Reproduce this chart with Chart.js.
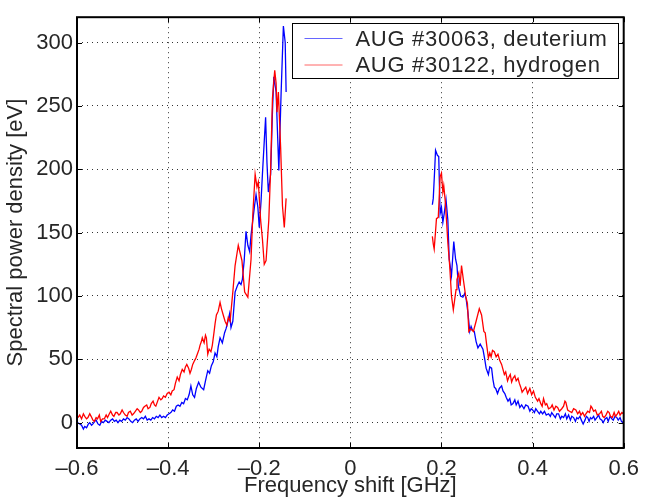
<!DOCTYPE html>
<html>
<head>
<meta charset="utf-8">
<script src="https://cdn.jsdelivr.net/npm/chart.js@4.4.1/dist/chart.umd.min.js"></script>
<style>
  html, body { margin: 0; background: #fff; }
</style>
</head>
<body>
<canvas id="spectrum" width="647" height="499"></canvas>
<script>
// axis ticks
var freqTicks = [-0.6, -0.4, -0.2, 0, 0.2, 0.4, 0.6];
var powerTicks = [0, 50, 100, 150, 200, 250, 300];

// AUG #30063, deuterium
var deutLeftF = [-0.598, -0.594, -0.590, -0.586, -0.583, -0.579, -0.575, -0.572, -0.568, -0.565,
  -0.561, -0.558, -0.554, -0.550, -0.546, -0.542, -0.538, -0.534, -0.530, -0.526,
  -0.522, -0.518, -0.514, -0.510, -0.506, -0.502, -0.498, -0.494, -0.490, -0.486,
  -0.482, -0.478, -0.474, -0.470, -0.466, -0.462, -0.458, -0.454, -0.450, -0.446,
  -0.442, -0.438, -0.434, -0.430, -0.426, -0.422, -0.418, -0.414, -0.410, -0.406,
  -0.402, -0.398, -0.394, -0.390, -0.386, -0.382, -0.378, -0.374, -0.370, -0.366,
  -0.362, -0.358, -0.354, -0.350, -0.346, -0.342, -0.338, -0.333, -0.328, -0.322,
  -0.318, -0.313, -0.309, -0.305, -0.301, -0.297, -0.293, -0.290, -0.286, -0.281,
  -0.276, -0.273, -0.270, -0.265, -0.262, -0.258, -0.253, -0.248, -0.244, -0.240,
  -0.237, -0.233, -0.229, -0.225, -0.221, -0.218, -0.214, -0.210, -0.207, -0.203,
  -0.200, -0.196, -0.193, -0.189, -0.186, -0.183, -0.180, -0.175, -0.171, -0.168,
  -0.163, -0.160, -0.157, -0.152, -0.147, -0.143, -0.141];
var deutLeftP = [0, -1, -2, -5, -3, -4, -1, 0, -2, -1,
  1, 2, -1, -2, 1, 0, 2, 1, 0, 2,
  3, 1, 2, 0, 2, 1, 3, 2, 4, 3,
  1, 0, 2, 3, 1, 3, 4, 3, 5, 2,
  3, 2, 4, 3, 5, 4, 6, 4, 5, 4,
  6, 7, 8, 10, 9, 13, 14, 13, 16, 15,
  19, 18, 22, 29, 22, 20, 27, 32, 28, 26,
  33, 41, 39, 45, 48, 55, 52, 60, 67, 63,
  71, 74, 78, 86, 75, 80, 103, 108, 111, 109,
  113, 128, 151, 140, 135, 148, 160, 172, 180, 170,
  154, 175, 196, 222, 241, 205, 182, 196, 245, 273,
  261, 230, 199, 260, 313, 300, 261];
var deutRightF = [0.180, 0.182, 0.185, 0.187, 0.191, 0.194, 0.197, 0.200, 0.203, 0.206,
  0.210, 0.214, 0.217, 0.222, 0.227, 0.231, 0.234, 0.237, 0.242, 0.247,
  0.251, 0.254, 0.258, 0.262, 0.265, 0.268, 0.272, 0.276, 0.280, 0.285,
  0.291, 0.295, 0.298, 0.301, 0.303, 0.306, 0.310, 0.313, 0.316, 0.319,
  0.323, 0.327, 0.332, 0.335, 0.339, 0.342, 0.346, 0.350, 0.353, 0.357,
  0.361, 0.364, 0.368, 0.372, 0.376, 0.381, 0.385, 0.390, 0.394, 0.397,
  0.400, 0.404, 0.407, 0.411, 0.415, 0.418, 0.422, 0.426, 0.430, 0.435,
  0.439, 0.442, 0.446, 0.450, 0.453, 0.457, 0.461, 0.464, 0.468, 0.472,
  0.475, 0.479, 0.483, 0.486, 0.490, 0.494, 0.497, 0.500, 0.504, 0.507,
  0.511, 0.515, 0.518, 0.521, 0.524, 0.527, 0.530, 0.534, 0.537, 0.541,
  0.545, 0.548, 0.552, 0.555, 0.559, 0.563, 0.566, 0.570, 0.574, 0.577,
  0.581, 0.585, 0.588, 0.592, 0.595, 0.598, 0.600];
var deutRightP = [172, 177, 199, 215, 211, 210, 165, 170, 158, 165,
  176, 160, 129, 116, 143, 129, 124, 108, 100, 99,
  102, 98, 87, 72, 76, 73, 72, 64, 59, 62,
  58, 50, 43, 40, 38, 44, 43, 34, 28, 27,
  23, 27, 29, 25, 23, 20, 17, 19, 14, 15,
  18, 14, 17, 12, 14, 11, 14, 13, 9, 11,
  10, 8, 11, 9, 7, 9, 7, 9, 6, 7,
  5, 8, 6, 4, 7, 7, 3, 5, 4, 7,
  3, 6, 2, 5, 4, 1, 4, 3, 5, 2,
  -1, 2, 5, 4, 1, 4, 3, 5, 2, 4,
  6, 3, 2, 0, 3, 4, 1, 5, 3, 2,
  5, 4, 2, 4, 1, 0, 2];

// AUG #30122, hydrogen
var hydLeftF = [-0.598, -0.594, -0.590, -0.586, -0.583, -0.579, -0.576, -0.572, -0.569, -0.565,
  -0.562, -0.558, -0.555, -0.551, -0.548, -0.544, -0.540, -0.536, -0.533, -0.529,
  -0.526, -0.522, -0.519, -0.515, -0.512, -0.508, -0.505, -0.501, -0.498, -0.494,
  -0.490, -0.487, -0.483, -0.479, -0.476, -0.472, -0.468, -0.465, -0.461, -0.458,
  -0.454, -0.451, -0.447, -0.444, -0.440, -0.437, -0.433, -0.430, -0.427, -0.423,
  -0.420, -0.416, -0.413, -0.410, -0.406, -0.402, -0.398, -0.394, -0.391, -0.387,
  -0.384, -0.380, -0.376, -0.373, -0.369, -0.365, -0.362, -0.359, -0.355, -0.352,
  -0.349, -0.346, -0.342, -0.339, -0.335, -0.332, -0.330, -0.327, -0.325, -0.321,
  -0.318, -0.316, -0.313, -0.310, -0.306, -0.303, -0.299, -0.297, -0.294, -0.290,
  -0.286, -0.283, -0.279, -0.275, -0.271, -0.268, -0.264, -0.258, -0.253, -0.246,
  -0.238, -0.232, -0.225, -0.218, -0.214, -0.209, -0.205, -0.202, -0.197, -0.193,
  -0.189, -0.185, -0.179, -0.175, -0.171, -0.166, -0.163, -0.161, -0.158, -0.153,
  -0.149, -0.145, -0.141];
var hydLeftP = [4, 6, 3, 7, 5, 3, 4, 7, 5, 2,
  1, 4, 3, 6, 1, 3, 3, 6, 4, 7,
  9, 6, 5, 8, 8, 6, 7, 10, 8, 6,
  5, 8, 9, 6, 7, 9, 11, 10, 8, 9,
  12, 13, 14, 11, 12, 15, 17, 14, 13, 17,
  20, 18, 19, 21, 20, 23, 24, 22, 25, 26,
  31, 36, 33, 38, 42, 40, 44, 46, 43, 39,
  42, 46, 49, 51, 55, 58, 61, 64, 67, 63,
  69, 67, 54, 58, 56, 61, 72, 78, 85, 88,
  95, 90, 85, 80, 77, 83, 80, 103, 124, 140,
  128, 103, 99, 129, 165, 196, 186, 190, 160, 145,
  125, 128, 160, 200, 256, 278, 268, 245, 261, 217,
  171, 154, 177];
var hydRightF = [0.180, 0.182, 0.184, 0.187, 0.189, 0.193, 0.197, 0.200, 0.203, 0.205,
  0.208, 0.211, 0.214, 0.218, 0.222, 0.226, 0.229, 0.232, 0.234, 0.238,
  0.241, 0.244, 0.248, 0.253, 0.257, 0.260, 0.264, 0.270, 0.276, 0.283,
  0.288, 0.293, 0.296, 0.299, 0.303, 0.306, 0.309, 0.312, 0.316, 0.320,
  0.324, 0.328, 0.332, 0.335, 0.338, 0.341, 0.345, 0.348, 0.351, 0.354,
  0.357, 0.361, 0.364, 0.368, 0.371, 0.374, 0.377, 0.381, 0.385, 0.389,
  0.394, 0.398, 0.402, 0.406, 0.411, 0.414, 0.418, 0.421, 0.424, 0.428,
  0.431, 0.435, 0.440, 0.443, 0.447, 0.451, 0.455, 0.459, 0.464, 0.468,
  0.471, 0.473, 0.477, 0.481, 0.486, 0.490, 0.495, 0.499, 0.503, 0.506,
  0.510, 0.514, 0.517, 0.521, 0.525, 0.528, 0.530, 0.534, 0.538, 0.542,
  0.547, 0.551, 0.554, 0.557, 0.561, 0.565, 0.568, 0.571, 0.575, 0.579,
  0.582, 0.586, 0.589, 0.592, 0.596, 0.599];
var hydRightP = [147, 141, 137, 151, 161, 162, 194, 197, 182, 187,
  176, 160, 142, 124, 100, 89, 97, 105, 113, 118,
  108, 124, 113, 100, 94, 72, 74, 72, 80, 90,
  85, 72, 71, 62, 51, 55, 52, 57, 56, 52,
  54, 49, 46, 42, 38, 40, 33, 36, 38, 32,
  35, 37, 33, 35, 31, 28, 24, 26, 28, 23,
  27, 22, 25, 20, 17, 19, 15, 13, 19, 14,
  15, 11, 12, 14, 10, 13, 12, 9, 11, 13,
  17, 16, 10, 9, 8, 11, 10, 7, 9, 6,
  8, 5, 7, 9, 8, 13, 12, 9, 10, 6,
  7, 9, 5, 4, 6, 9, 8, 5, 4, 8,
  5, 7, 9, 6, 8, 7];

function branches(fl, pl, fr, pr) {
  var out = [];
  for (var i = 0; i < fl.length; i++) out.push({ x: fl[i], y: pl[i] });
  out.push({ x: 0.02, y: null });   // gap around zero shift
  for (var j = 0; j < fr.length; j++) out.push({ x: fr[j], y: pr[j] });
  return out;
}

var FONT = "'Liberation Sans', Arial, Helvetica, sans-serif";
var TEXT = '#262626';

function tickText(v) {
  if (Math.abs(v) < 1e-9) return '0';
  return v < 0 ? '\u2013' + Math.abs(v) : String(v);
}

// box, inward tick marks and the legend, MATLAB style
var framePlugin = {
  id: 'frame',
  afterDraw: function (chart) {
    var ctx = chart.ctx, a = chart.chartArea;
    var xs = chart.scales.x, ys = chart.scales.y;
    ctx.save();
    ctx.strokeStyle = '#000';
    ctx.lineWidth = 1;
    ctx.beginPath();
    freqTicks.forEach(function (v) {
      var px = Math.round(xs.getPixelForValue(v)) + 0.5;
      ctx.moveTo(px, a.bottom); ctx.lineTo(px, a.bottom - 5);
      ctx.moveTo(px, a.top); ctx.lineTo(px, a.top + 5);
    });
    powerTicks.forEach(function (v) {
      var py = Math.round(ys.getPixelForValue(v)) + 0.5;
      ctx.moveTo(a.left, py); ctx.lineTo(a.left + 5, py);
      ctx.moveTo(a.right, py); ctx.lineTo(a.right - 5, py);
    });
    ctx.stroke();
    ctx.lineWidth = 2;
    ctx.strokeRect(a.left, a.top, a.right - a.left, a.bottom - a.top);

    // legend
    var sets = [chart.data.datasets[1], chart.data.datasets[0]];
    ctx.letterSpacing = '0.7px';
    ctx.font = '22px ' + FONT;
    var tw = 0;
    sets.forEach(function (d) { tw = Math.max(tw, ctx.measureText(d.label).width); });
    var bw = Math.round(12 + 38 + 13 + tw + 11), bh = 55;
    var bx = Math.round(a.right - 6 - bw) + 0.5, by = Math.round(a.top + 6) + 0.5;
    ctx.fillStyle = '#fff';
    ctx.fillRect(bx, by, bw, bh);
    ctx.lineWidth = 1;
    ctx.strokeStyle = '#000';
    ctx.strokeRect(bx, by, bw, bh);
    ctx.textBaseline = 'middle';
    ctx.textAlign = 'left';
    sets.forEach(function (d, i) {
      var cy = by + 15 + i * 26.5;
      ctx.strokeStyle = d.borderColor;
      ctx.globalAlpha = 0.6;
      ctx.beginPath();
      ctx.moveTo(bx + 12, cy); ctx.lineTo(bx + 50, cy);
      ctx.stroke();
      ctx.globalAlpha = 1;
      ctx.fillStyle = TEXT;
      ctx.fillText(d.label, bx + 63, cy + 1);
    });
    ctx.restore();
  }
};

var ctx = document.getElementById('spectrum').getContext('2d');
var spectrumChart = new Chart(ctx, {
  type: 'line',
  data: {
    datasets: [{
      label: 'AUG #30122, hydrogen',
      data: branches(hydLeftF, hydLeftP, hydRightF, hydRightP),
      borderColor: '#ff0000',
      borderWidth: 1.3,
      pointRadius: 0,
      tension: 0,
      spanGaps: false
    }, {
      label: 'AUG #30063, deuterium',
      data: branches(deutLeftF, deutLeftP, deutRightF, deutRightP),
      borderColor: '#0000ff',
      borderWidth: 1.3,
      pointRadius: 0,
      tension: 0,
      spanGaps: false
    }]
  },
  options: {
    responsive: false,
    animation: false,
    events: [],
    layout: { padding: { top: 11, right: 16, left: 0, bottom: 0 } },
    plugins: { legend: { display: false }, tooltip: { enabled: false } },
    scales: {
      x: {
        type: 'linear',
        min: -0.6,
        max: 0.6,
        afterBuildTicks: function (s) { s.ticks = freqTicks.map(function (v) { return { value: v }; }); },
        afterFit: function (s) { s.height = 51; },
        border: { display: false, dash: [1, 4] },
        grid: { color: '#333', lineWidth: 1, drawTicks: false },
        ticks: {
          padding: 8,
          color: TEXT,
          font: { family: FONT, size: 22 },
          maxRotation: 0,
          callback: function (v) { return tickText(v); }
        },
        title: {
          display: true,
          text: 'Frequency shift [GHz]',
          color: TEXT,
          font: { family: FONT, size: 22 },
          padding: { top: 0, bottom: 0 }
        }
      },
      y: {
        type: 'linear',
        min: -20,
        max: 320,
        afterBuildTicks: function (s) { s.ticks = powerTicks.map(function (v) { return { value: v }; }); },
        afterFit: function (s) { s.width = 77; },
        border: { display: false, dash: [1, 4] },
        grid: { color: '#333', lineWidth: 1, drawTicks: false },
        ticks: {
          padding: 4,
          color: TEXT,
          font: { family: FONT, size: 22 },
          callback: function (v) { return tickText(v); }
        },
        title: {
          display: true,
          text: 'Spectral power density [eV]',
          color: TEXT,
          font: { family: FONT, size: 22 },
          padding: { top: 3, bottom: 0 }
        }
      }
    }
  },
  plugins: [framePlugin]
});
</script>
</body>
</html>
